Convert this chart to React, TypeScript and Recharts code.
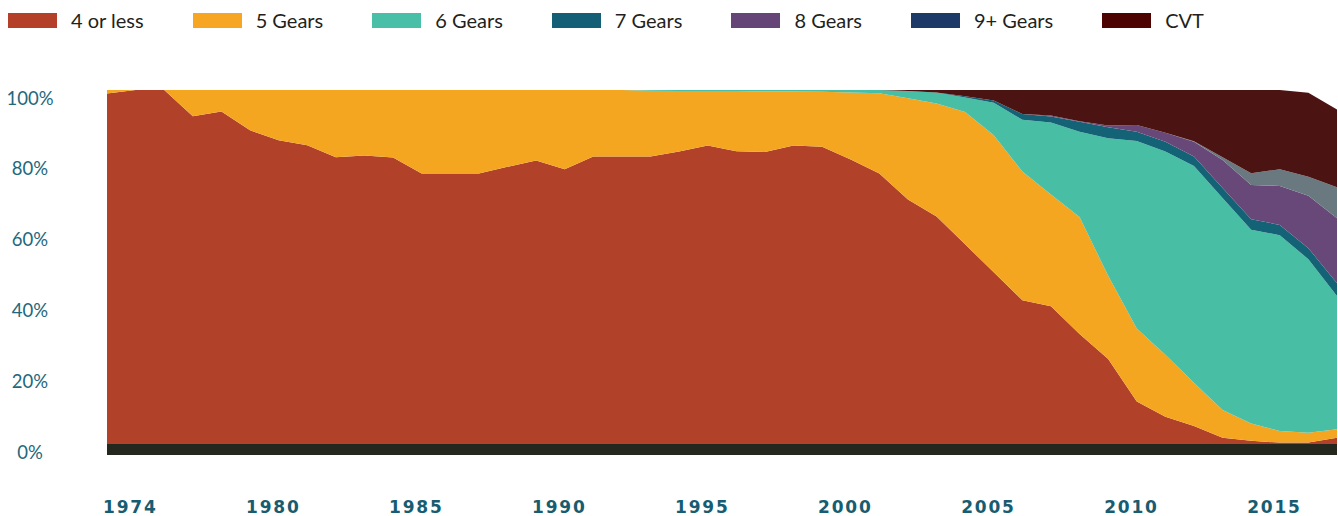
import { AreaChart, Area, XAxis, YAxis, ReferenceArea } from "recharts";

// model years, one row per year
const years = [
  1975, 1976, 1977, 1978, 1979, 1980, 1981, 1982, 1983, 1984,
  1985, 1986, 1987, 1988, 1989, 1990, 1991, 1992, 1993, 1994,
  1995, 1996, 1997, 1998, 1999, 2000, 2001, 2002, 2003, 2004,
  2005, 2006, 2007, 2008, 2009, 2010, 2011, 2012, 2013, 2014,
  2015, 2016, 2017, 2018,
];

// production share (%) by transmission type
const fourOrLess = [
  99.0, 100, 100, 92.6, 93.9, 88.6, 85.8, 84.4, 81.0, 81.5,
  80.9, 76.4, 76.4, 76.4, 78.3, 80.1, 77.6, 81.2, 81.2, 81.2,
  82.6, 84.3, 82.7, 82.5, 84.3, 84.0, 80.4, 76.4, 69.1, 64.3,
  56.4, 48.5, 40.6, 38.9, 31.1, 24.0, 12.0, 7.7, 5.1, 1.8,
  0.9, 0.4, 0.4, 1.8,
];
const fiveGears = [
  1.0, 0, 0, 7.4, 6.1, 11.4, 14.2, 15.6, 19.0, 18.5,
  19.1, 23.6, 23.6, 23.6, 21.7, 19.9, 22.4, 18.8, 18.8, 18.6,
  17.1, 15.4, 17.0, 17.1, 15.3, 15.5, 18.9, 22.7, 28.6, 31.9,
  37.4, 38.7, 36.4, 31.6, 33.0, 23.5, 20.6, 17.5, 12.2, 7.8,
  4.9, 3.3, 2.8, 2.4,
];
const sixGears = [
  0, 0, 0, 0, 0, 0, 0, 0, 0, 0,
  0, 0, 0, 0, 0, 0, 0, 0, 0, 0.2,
  0.3, 0.3, 0.3, 0.4, 0.4, 0.5, 0.7, 0.9, 2.0, 3.1,
  4.1, 9.2, 14.6, 20.3, 24.1, 38.9, 53.0, 57.4, 61.2, 59.9,
  54.7, 55.3, 49.0, 37.6,
];
const sevenGears = [
  0, 0, 0, 0, 0, 0, 0, 0, 0, 0,
  0, 0, 0, 0, 0, 0, 0, 0, 0, 0,
  0, 0, 0, 0, 0, 0, 0, 0, 0, 0,
  0.3, 0.6, 1.6, 1.7, 2.8, 3.1, 2.6, 2.8, 2.7, 2.8,
  3.0, 2.9, 3.1, 3.6,
];
const eightGears = [
  0, 0, 0, 0, 0, 0, 0, 0, 0, 0,
  0, 0, 0, 0, 0, 0, 0, 0, 0, 0,
  0, 0, 0, 0, 0, 0, 0, 0, 0, 0,
  0, 0, 0, 0.3, 0.2, 0.5, 1.9, 2.5, 4.2, 7.9,
  9.7, 11.0, 14.8, 18.4,
];
const ninePlusGears = [
  0, 0, 0, 0, 0, 0, 0, 0, 0, 0,
  0, 0, 0, 0, 0, 0, 0, 0, 0, 0,
  0, 0, 0, 0, 0, 0, 0, 0, 0, 0,
  0, 0, 0, 0, 0, 0, 0, 0, 0.1, 0.8,
  3.3, 4.7, 5.4, 8.7,
];
const cvt = [
  0, 0, 0, 0, 0, 0, 0, 0, 0, 0,
  0, 0, 0, 0, 0, 0, 0, 0, 0, 0,
  0, 0, 0, 0, 0, 0, 0, 0, 0.3, 0.7,
  1.8, 3.0, 6.8, 7.2, 8.8, 10.0, 9.9, 12.1, 14.5, 19.0,
  23.5, 22.4, 23.7, 22.0,
];

const xTicks = [1975, 1980, 1985, 1990, 1995, 2000, 2005, 2010, 2015];
const xTickLabels = ["1974", "1980", "1985", "1990", "1995", "2000", "2005", "2010", "2015"];
const yTicks = [0, 20, 40, 60, 80, 100];

const series = [
  { key: "four", name: "4 or less", fill: "#b2412a", swatch: "#b5402a" },
  { key: "five", name: "5 Gears", fill: "#f5a620", swatch: "#f6a623" },
  { key: "six", name: "6 Gears", fill: "#48bfa5", swatch: "#48bfa6" },
  { key: "seven", name: "7 Gears", fill: "#136275", swatch: "#145f75" },
  { key: "eight", name: "8 Gears", fill: "#674879", swatch: "#654577" },
  { key: "nine", name: "9+ Gears", fill: "#6a7980", swatch: "#1d3967" },
  { key: "cvt", name: "CVT", fill: "#4b1413", swatch: "#4e0303" },
];

const data = years.map((year, i) => ({
  year,
  four: fourOrLess[i],
  five: fiveGears[i],
  six: sixGears[i],
  seven: sevenGears[i],
  eight: eightGears[i],
  nine: ninePlusGears[i],
  cvt: cvt[i],
}));

function YTick({ y, payload }: any) {
  return (
    <text
      x={30}
      y={y + 7.5}
      textAnchor="middle"
      dominantBaseline="central"
      fontFamily="Lato, sans-serif"
      fontSize={18.5}
      fill="#22687c"
    >
      {payload.value}%
    </text>
  );
}

function XTick({ x, y, payload }: any) {
  const label = xTickLabels[xTicks.indexOf(payload.value)];
  return (
    <text
      x={x - 4}
      y={y + 58}
      textAnchor="start"
      fontFamily="'DejaVu Sans', sans-serif"
      fontWeight={700}
      fontSize={17}
      letterSpacing={1.8}
      fill="#175c70"
    >
      {label}
    </text>
  );
}

function Legend() {
  return (
    <div
      style={{
        position: "absolute",
        top: 13,
        left: 8,
        display: "flex",
        alignItems: "center",
        fontFamily: "Lato, sans-serif",
        fontSize: 20,
        color: "#231f20",
        lineHeight: "15px",
      }}
    >
      {series.map((s) => (
        <div key={s.key} style={{ display: "flex", alignItems: "center", marginRight: 49 }}>
          <span style={{ display: "inline-block", width: 49, height: 15, background: s.swatch, marginRight: 14 }} />
          <span>{s.name}</span>
        </div>
      ))}
    </div>
  );
}

export default function App() {
  return (
    <div style={{ position: "relative", width: 1338, height: 516, background: "#fff" }}>
      <style>{`body { margin: 0; }`}</style>
      <Legend />
      <AreaChart width={1338} height={516} data={data} margin={{ top: 90, right: 1, bottom: 0, left: 0 }}>
        <XAxis
          dataKey="year"
          type="number"
          domain={[1975, 2018]}
          ticks={xTicks}
          axisLine={false}
          tickLine={false}
          tickSize={0}
          tickMargin={0}
          height={61}
          tick={<XTick />}
        />
        <YAxis
          type="number"
          domain={[-3.1, 100]}
          ticks={yTicks}
          allowDataOverflow
          axisLine={false}
          tickLine={false}
          width={107}
          tick={<YTick />}
        />
        {series.map((s) => (
          <Area
            key={s.key}
            type="linear"
            dataKey={s.key}
            name={s.name}
            stackId="share"
            fill={s.fill}
            fillOpacity={1}
            stroke="none"
            isAnimationActive={false}
          />
        ))}
        <ReferenceArea x1={1975} x2={2018} y1={-3.1} y2={0} fill="#23271e" fillOpacity={1} stroke="none" ifOverflow="visible" />
      </AreaChart>
    </div>
  );
}
